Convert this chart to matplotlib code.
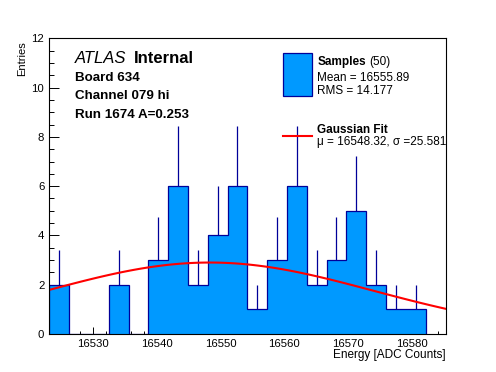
import numpy as np
import matplotlib
matplotlib.use("Agg")
import matplotlib.pyplot as plt
from matplotlib.patches import Rectangle
from matplotlib.lines import Line2D
from matplotlib.transforms import Affine2D
from matplotlib.ticker import MultipleLocator

plt.rcParams["font.family"] = ["Liberation Sans", "DejaVu Sans"]

# Histogram data (bin contents)
bin_lo, bin_hi, n_bins = 16523.2, 16582.1, 19
counts = [2, 0, 0, 2, 0, 3, 6, 2, 4, 6, 1, 3, 6, 2, 3, 5, 2, 1, 1]

# Gaussian fit parameters
fit_amp = 2.9
fit_mu = 16548.32
fit_sigma = 25.581

x_range = (16523.2, 16585.3)
y_range = (0, 12)

title_lines = ["Board 634", "Channel 079 hi", "Run 1674 A=0.253"]
n_samples = 50
mean_txt = "Mean = 16555.89"
rms_txt = "RMS = 14.177"
fit_txt = "\u03bc = 16548.32, \u03c3 =25.581"

fill_col = "#0099ff"
edge_col = "#000099"

W, H = 496, 372
fig = plt.figure(figsize=(W / 100, H / 100), dpi=100)
ax = fig.add_axes([49.3 / W, 1 - 334 / H, (446 - 49.3) / W, (334 - 38.3) / H])

# pixel coordinates (origin top-left) -> figure
pix = Affine2D().scale(1 / W, -1 / H).translate(0, 1) + fig.transFigure

edges = np.linspace(bin_lo, bin_hi, n_bins + 1)
centers = 0.5 * (edges[:-1] + edges[1:])
counts = np.array(counts, dtype=float)

ax.stairs(counts, edges, fill=True, color=fill_col, zorder=2)
ax.stairs(counts, edges, color=edge_col, linewidth=0.9, zorder=3)

# upward error bars (sqrt N)
nz = counts > 0
ax.vlines(centers[nz], counts[nz], counts[nz] + np.sqrt(counts[nz]),
          color=edge_col, linewidth=0.9, zorder=3)

# Gaussian fit curve
xf = np.linspace(x_range[0], x_range[1], 100)
yf = fit_amp * np.exp(-0.5 * ((xf - fit_mu) / fit_sigma) ** 2)
ax.plot(xf, yf, color="red", linewidth=1.5, zorder=4)

ax.set_xlim(*x_range)
ax.set_ylim(*y_range)

ax.xaxis.set_major_locator(MultipleLocator(10))
ax.xaxis.set_minor_locator(MultipleLocator(2))
ax.yaxis.set_major_locator(MultipleLocator(2))
ax.yaxis.set_minor_locator(MultipleLocator(0.5))
ax.tick_params(axis="x", which="major", direction="in", length=4.8, width=0.7,
               labelsize=8.2, pad=3.6)
ax.tick_params(axis="x", which="minor", direction="in", length=2.4, width=0.7)
ax.tick_params(axis="y", which="major", direction="in", length=7.2, width=0.7,
               labelsize=8.2, pad=3.6)
ax.tick_params(axis="y", which="minor", direction="in", length=3.6, width=0.7)
for s in ax.spines.values():
    s.set_linewidth(0.8)
    s.set_zorder(5)

# axis titles (ROOT style: right / top aligned)
fig.text(446 / W, 1 - 358 / H, "Energy [ADC Counts]", ha="right",
         va="baseline", fontsize=8.5)
fig.text(22 / W, 1 - 41 / H, "Entries", rotation=90, ha="center",
         va="top", fontsize=8)

# ATLAS label and run info
ax.text(75, 63.3, "ATLAS", transform=pix, fontsize=12, style="italic",
        va="baseline", zorder=6)
ax.text(134, 63.3, "Internal", transform=pix, fontsize=12, weight="bold",
        va="baseline", zorder=6)
for txt, yb in zip(title_lines, [80.7, 99.0, 117.5]):
    ax.text(75, yb, txt, transform=pix, fontsize=9.6, weight="bold",
            va="baseline", zorder=6)

# legend
ax.add_patch(Rectangle((283.3, 53.3), 28.4, 42.7, transform=pix,
                       facecolor=fill_col, edgecolor=edge_col,
                       linewidth=0.9, zorder=6))
ax.add_line(Line2D([283.3, 311.7], [136, 136], transform=pix, color="red",
                   linewidth=1.5, zorder=6))
ax.text(317.3, 65, "Samples", transform=pix, fontsize=8.5, weight="bold",
        va="baseline", zorder=6)
ax.text(369.3, 65, f"({n_samples})", transform=pix, fontsize=8.5,
        va="baseline", zorder=6)
ax.text(317.3, 80.7, mean_txt, transform=pix, fontsize=8.5,
        va="baseline", zorder=6)
ax.text(317.3, 94, rms_txt, transform=pix, fontsize=8.5,
        va="baseline", zorder=6)
ax.text(317.3, 133.3, "Gaussian Fit", transform=pix, fontsize=8.5,
        weight="bold", va="baseline", zorder=6)
ax.text(317.3, 145, fit_txt, transform=pix, fontsize=8.5,
        va="baseline", zorder=6)

ax.set_xlim(*x_range)
ax.set_ylim(*y_range)

fig.savefig("out.png", dpi=100)
